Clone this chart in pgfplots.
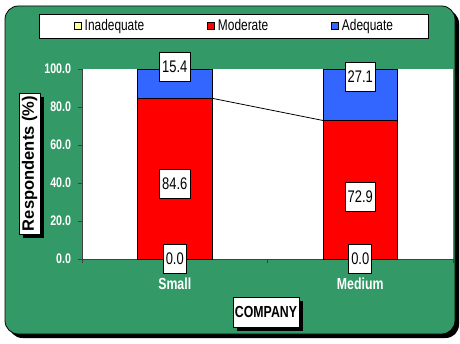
\documentclass[border=0pt]{standalone}
\usepackage{pgfplots}
\pgfplotsset{compat=1.18}
\usepackage{fontspec}
\setmainfont{Liberation Sans}
\newfontfamily\nar[FakeStretch=0.77]{Liberation Sans}
\definecolor{bggreen}{RGB}{51,153,102}
\definecolor{modred}{RGB}{255,0,0}
\definecolor{adqblue}{RGB}{51,102,255}
\definecolor{inadyel}{RGB}{255,255,153}
\tikzset{lbl/.style={draw=black, fill=white, line width=0.5pt, font=\nar\fontsize{12.6}{14}\selectfont, inner xsep=1.9pt, inner ysep=0pt, minimum height=21.75pt}}
\begin{document}
\begin{tikzpicture}[x=0.75pt,y=0.75pt]
\useasboundingbox (0,0) rectangle (460,343);
\fill[black,rounded corners=10pt] (9,5) rectangle (459,333);
\filldraw[fill=bggreen,draw=black,line width=0.6pt,rounded corners=10pt] (5,9) rectangle (455,337);

\begin{axis}[
  at={(61.5pt,63pt)}, anchor=south west,
  scale only axis, width=278.25pt, height=142.5pt,
  xmin=-0.5, xmax=1.5, ymin=0, ymax=100,
  clip=false,
  ybar stacked, bar width=0.4,
  axis x line*=bottom, axis y line*=left,
  axis line style={black!75,line width=0.6pt,-},
  axis background/.style={fill=white},
  ytick={0,20,40,60,80,100},
  yticklabels={0.0,20.0,40.0,60.0,80.0,100.0},
  xtick={-0.5,0.5,1.5}, xticklabels={},
  extra x ticks={0,1}, extra x tick labels={Small,Medium},
  extra x tick style={major tick length=0pt},
  tick align=outside, major tick length=3pt,
  tick style={black!75,line width=0.6pt},
  yticklabel style={font=\nar\bfseries\fontsize{10.4}{12}\selectfont, text=white, anchor=east, inner xsep=0pt, xshift=-5pt},
  xticklabel style={font=\nar\bfseries\fontsize{12}{14}\selectfont, text=white, anchor=north, yshift=-11pt},
  legend style={at={(0.4097,1.2263)}, anchor=center, draw=black, line width=0.6pt, fill=white,
    font=\nar\fontsize{11.6}{13}\selectfont, inner xsep=25.5pt, inner ysep=3pt,
    nodes={inner sep=1pt},
    /tikz/every odd column/.append style={column sep=1.5pt},
    /tikz/every even column/.append style={column sep=46pt}},
  legend columns=3,
  legend image code/.code={\draw[#1,/tikz/.cd,draw=black,line width=0.5pt] (0pt,-2.6pt) rectangle (5.25pt,2.6pt);},
]
\addplot[fill=inadyel, draw=black, line width=0.5pt] coordinates {(0,0) (1,0)};
\addlegendentry{Inadequate}
\addplot[fill=modred, draw=black, line width=0.5pt] coordinates {(0,84.6) (1,72.9)};
\addlegendentry{Moderate}
\addplot[fill=adqblue, draw=black, line width=0.5pt] coordinates {(0,15.4) (1,27.1)};
\addlegendentry{Adequate}
\end{axis}

\begin{axis}[
  at={(61.5pt,63pt)}, anchor=south west,
  scale only axis, width=278.25pt, height=142.5pt,
  xmin=-0.5, xmax=1.5, ymin=0, ymax=100,
  hide axis, clip=false,
]
\addplot[black, line width=0.6pt, no markers] coordinates {(0.2,84.6) (0.8,72.9)};
\node[lbl] at (axis cs:0,0) {0.0};
\node[lbl] at (axis cs:0,39.8) {84.6};
\node[lbl] at (axis cs:0,101.2) {15.4};
\node[lbl] at (axis cs:1,0) {0.0};
\node[lbl] at (axis cs:1,32.6) {72.9};
\node[lbl] at (axis cs:1,96) {27.1};
\end{axis}

% axis title boxes with shadow
\node[fill=black, rotate=90, minimum width=105.75pt, minimum height=15.75pt, inner sep=0pt] at (33.5,175.5) {};
\node[draw=black, fill=white, line width=0.5pt, rotate=90, minimum width=105.75pt, minimum height=15.75pt, inner sep=0pt, font=\bfseries\fontsize{12.4}{14}\selectfont] at (29.5,179.5) {Respondents (\%)};
\node[fill=black, minimum width=49.5pt, minimum height=22.5pt, inner sep=0pt] at (270,27) {};
\node[draw=black, fill=white, line width=0.5pt, minimum width=49.5pt, minimum height=22.5pt, inner sep=0pt, font=\nar\bfseries\fontsize{12}{14}\selectfont] at (266,31) {COMPANY};
\end{tikzpicture}
\end{document}
